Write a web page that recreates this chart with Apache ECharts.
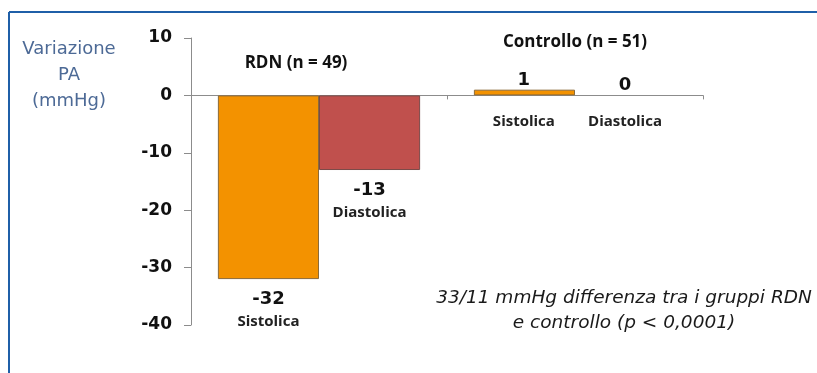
<!DOCTYPE html>
<html>
<head>
<meta charset="utf-8">
<script src="https://cdn.jsdelivr.net/npm/echarts@6/dist/echarts.min.js"></script>
<style>
html,body{margin:0;padding:0;background:#fff;}
#chart{width:817px;height:373px;}
</style>
</head>
<body>
<div id="chart"></div>
<script>
// ---- data ----
var groups = ['RDN (n = 49)', 'Controllo (n = 51)'];
var seriesNames = ['Sistolica', 'Diastolica'];
var sistolica = [-32, 1];
var diastolica = [-13, 0];
var yTicks = [10, 0, -10, -20, -30, -40];
var yAxisTitle = 'Variazione\nPA\n(mmHg)';
var footnote = '33/11 mmHg differenza tra i gruppi RDN\ne controllo (p < 0,0001)';

var ORANGE = '#F39200';
var RED = '#C0504D';
var NUMFONT = 'DejaVu Sans';
var NAMEFONT = 'Open Sans';

var rich = {
  v: {fontFamily: NUMFONT, fontWeight: 'bold', fontSize: 18, color: '#111', lineHeight: 24, align: 'center'},
  n: {fontFamily: NAMEFONT, fontWeight: 'bold', fontSize: 15, color: '#222', lineHeight: 22, align: 'center'},
  g1: {lineHeight: 18, align: 'center'},
  g2: {lineHeight: 13, align: 'center'}
};

function makeData(values, name) {
  return values.map(function (v, i) {
    var item = {value: v};
    if (v < 0) {
      item.label = {
        show: true, position: 'bottom', distance: 8,
        formatter: '{v|' + v + '}\n{n|' + name + '}', rich: rich
      };
    } else {
      item.label = {
        show: true,
        position: [50, v > 0 ? -21 : -22],
        align: 'center', verticalAlign: 'top',
        formatter: '{v|' + v + '}\n{' + (v > 0 ? 'g1' : 'g2') + '|}\n{n|' + name + '}',
        rich: rich
      };
      if (v === 0) item.itemStyle = {borderWidth: 0};
    }
    return item;
  });
}

var chart = echarts.init(document.getElementById('chart'), null, {renderer: 'canvas'});
var option = {
  animation: false,
  backgroundColor: '#fff',
  grid: {left: 191, right: 114, top: 38, bottom: 48, containLabel: false},
  xAxis: {
    type: 'category',
    data: groups,
    axisLine: {onZero: true, lineStyle: {color: '#8c8c8c', width: 1}},
    axisTick: {show: true, length: 4, lineStyle: {color: '#8c8c8c'}},
    axisLabel: {show: false},
    splitLine: {show: false}
  },
  yAxis: {
    type: 'value',
    min: -40, max: 10, interval: 10,
    axisLine: {show: true, lineStyle: {color: '#8c8c8c', width: 1}},
    axisTick: {show: true, length: 7, lineStyle: {color: '#8c8c8c'}},
    axisLabel: {
      margin: 19, color: '#111', fontFamily: NUMFONT, fontWeight: 'bold', fontSize: 17,
      formatter: function (v) { return yTicks.indexOf(v) >= 0 ? String(v) : ''; }
    },
    splitLine: {show: false}
  },
  series: [
    {
      name: seriesNames[0], type: 'bar', barGap: '0%', barCategoryGap: '21%',
      itemStyle: {color: ORANGE, borderColor: '#8a6a3a', borderWidth: 1},
      data: makeData(sistolica, seriesNames[0])
    },
    {
      name: seriesNames[1], type: 'bar', barGap: '0%', barCategoryGap: '21%',
      itemStyle: {color: RED, borderColor: '#7a4a48', borderWidth: 1},
      data: makeData(diastolica, seriesNames[1])
    }
  ],
  graphic: [
    {type: 'line', shape: {x1: 9, y1: 12, x2: 817, y2: 12}, style: {stroke: '#1F5FA8', lineWidth: 2}},
    {type: 'line', shape: {x1: 9, y1: 12, x2: 9, y2: 373}, style: {stroke: '#1F5FA8', lineWidth: 2}},
    {type: 'text', x: 69, y: 36, style: {
      text: yAxisTitle, fontFamily: NUMFONT, fontSize: 18, fill: '#4d6a96',
      lineHeight: 26, align: 'center', verticalAlign: 'top'
    }},
    {type: 'text', x: 296, y: 63, style: {
      text: groups[0], fontFamily: NAMEFONT, fontWeight: 'bold', fontSize: 17, fill: '#111',
      align: 'center', verticalAlign: 'middle'
    }},
    {type: 'text', x: 575, y: 42, style: {
      text: groups[1], fontFamily: NAMEFONT, fontWeight: 'bold', fontSize: 17, fill: '#111',
      align: 'center', verticalAlign: 'middle'
    }},
    {type: 'text', x: 624, y: 286, style: {
      text: footnote, fontFamily: NUMFONT, fontStyle: 'italic', fontSize: 18.5, fill: '#1a1a1a',
      lineHeight: 25, align: 'center'
    }}
  ]
};
chart.setOption(option);
</script>
</body>
</html>
